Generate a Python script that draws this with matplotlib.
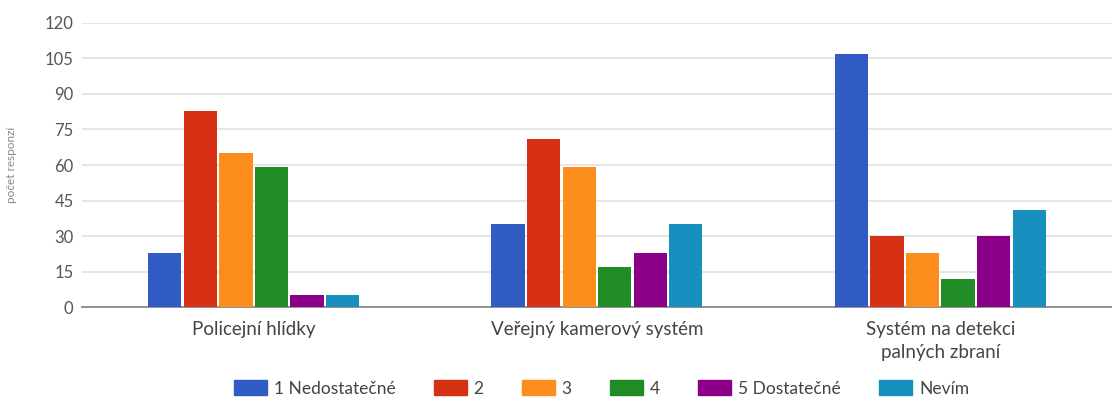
import numpy as np
import matplotlib.pyplot as plt
from matplotlib.patches import Patch

plt.rcParams['font.family'] = ['Lato', 'DejaVu Sans']

# survey answers per category
categories = ['Policejní hlídky', 'Veřejný kamerový systém', 'Systém na detekci\npalných zbraní']
series = ['1 Nedostatečné', '2', '3', '4', '5 Dostatečné', 'Nevím']
vals_1 = [23, 35, 107]
vals_2 = [83, 71, 30]
vals_3 = [65, 59, 23]
vals_4 = [59, 17, 12]
vals_5 = [5, 23, 30]
vals_nevim = [5, 35, 41]
yticks = [0, 15, 30, 45, 60, 75, 90, 105, 120]

colors = ['#2f5bc2', '#d63114', '#fd8e1d', '#218b26', '#8c0089', '#1790bf']
data = [vals_1, vals_2, vals_3, vals_4, vals_5, vals_nevim]

fig = plt.figure(figsize=(11.12, 4.01), dpi=100)
ax = fig.add_axes([0.0737, 0.234, 0.9263, 0.709])

x = np.arange(len(categories))
step = 0.1035
w = 0.097
for i, (vals, c) in enumerate(zip(data, colors)):
    ax.bar(x + (i - 2.5) * step, vals, width=w, color=c, zorder=3)

ax.set_xlim(-0.5, 2.5)
ax.set_ylim(0, 120)
ax.set_yticks(yticks)
ax.yaxis.grid(True, color='#e4e4e4', lw=1.3, zorder=0)
for s in ['top', 'right', 'left']:
    ax.spines[s].set_visible(False)
ax.spines['bottom'].set_color('#8a8a8a')
ax.spines['bottom'].set_linewidth(1.3)
ax.tick_params(axis='y', length=0, pad=6, labelsize=12, labelcolor='#555555')
ax.tick_params(axis='x', length=0, pad=10, labelsize=13.5, labelcolor='#444444')
ax.set_xticks(x)
ax.set_xticklabels(categories, linespacing=1.45, va='top')
ax.set_ylabel('počet responzí', fontsize=8.5, color='#888888', labelpad=20)

handles = [Patch(color=c) for c in colors]
fig.legend(handles, series, loc='center', bbox_to_anchor=(0.541, 0.032), ncol=6,
           frameon=False, fontsize=12.5, handlelength=1.9, handleheight=1.0,
           handletextpad=0.4, columnspacing=2.2, labelcolor='#444444')

fig.savefig('out.png', dpi=100)
